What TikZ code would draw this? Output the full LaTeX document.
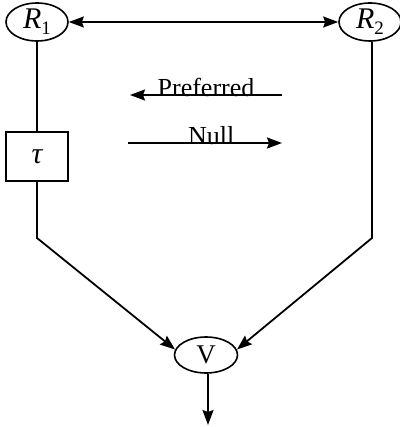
\documentclass[tikz,border=0pt]{standalone}
\usepackage{fontspec}
\setmainfont{Liberation Serif}
\usetikzlibrary{shapes.geometric,arrows.meta}
\newcommand{\rlab}[1]{{\itshape R}\raisebox{-6pt}{\fontsize{19}{20}\selectfont #1}}
\begin{document}
\begin{tikzpicture}[x=1pt,y=-1pt,
  conn/.style={line width=1.8pt},
  tip/.tip={Stealth[length=15pt,width=11pt,inset=2pt]},
  arr/.style={conn,-tip},
  oval/.style={ellipse,draw,line width=1.6pt,minimum width=62pt,minimum height=38pt,inner sep=0pt},
  lbl/.style={font=\fontsize{26}{28}\selectfont}]
\useasboundingbox (0,0) rectangle (399,427);
\node[oval,font=\fontsize{30}{32}\selectfont] (R1) at (37,22) {\raisebox{-2pt}{\rlab{1}}};
\node[oval,font=\fontsize{30}{32}\selectfont] (R2) at (370,22) {\raisebox{-2pt}{\rlab{2}}};
\node[draw,line width=1.6pt,minimum width=62pt,minimum height=49pt,inner sep=0pt,font=\fontsize{30}{32}\selectfont\itshape] (tau) at (37,156.5) {τ};
\node[oval,minimum width=63pt,minimum height=36pt,font=\fontsize{27}{29}\selectfont] (V) at (206,355) {\raisebox{-7pt}{V}};
\coordinate (L) at (37,238);
\coordinate (R) at (372,238);
\coordinate (out) at (208,425);
\coordinate (p1) at (282,95);
\coordinate (p2) at (130,95);
\coordinate (n1) at (128,143);
\coordinate (n2) at (282,143);
\draw[conn,tip-tip] (R1.east) -- (R2.west);
\draw[conn] (R1.south) -- (tau.north);
\draw[arr] (tau.south) -- (L) -- (V.170);
\draw[arr] (R2.south -| R) -- (R) -- (V.10);
\draw[arr] (V.south -| out) -- (out);
\draw[arr] (p1) -- (p2) node[pos=0.5,lbl,above=-6pt] (pref) {Preferred};
\draw[arr] (n1) -- (n2) node[pos=0.54,lbl,above=-6pt] (null) {Null};
\end{tikzpicture}
\end{document}
